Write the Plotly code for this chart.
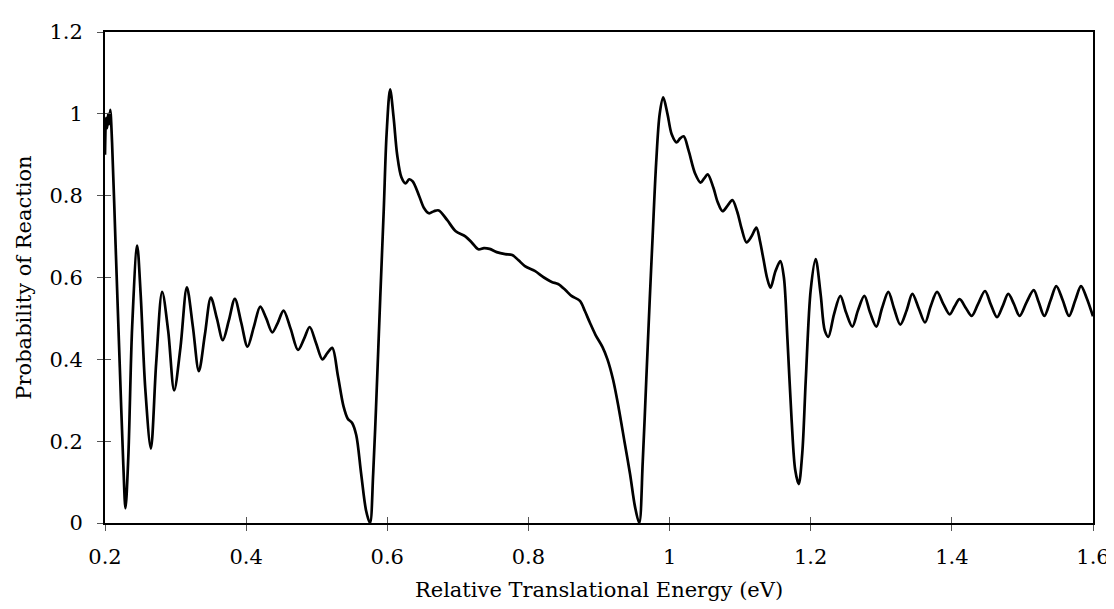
import plotly.graph_objects as go

# Energy (eV) and probability of reaction
energy = [
    0.200, 0.2015, 0.203, 0.2045, 0.206, 0.2075, 0.210, 0.215, 0.221, 0.226, 0.229,
    0.233, 0.2385, 0.2456, 0.2505, 0.257, 0.265, 0.2725, 0.281, 0.2895, 0.298,
    0.307, 0.316, 0.3245, 0.333, 0.3415, 0.350, 0.3585, 0.367, 0.3755, 0.384,
    0.393, 0.402, 0.411, 0.420, 0.4285, 0.437, 0.445, 0.453, 0.463, 0.4735,
    0.482, 0.490, 0.499, 0.508, 0.515, 0.522, 0.530, 0.538, 0.544, 0.550,
    0.556, 0.563, 0.570, 0.5755, 0.580, 0.584, 0.590, 0.595, 0.599, 0.604,
    0.609, 0.614, 0.620, 0.626, 0.631, 0.636, 0.645, 0.652, 0.659, 0.666,
    0.673, 0.685, 0.697, 0.711, 0.720, 0.729, 0.737, 0.745, 0.755, 0.767,
    0.777, 0.786, 0.795, 0.809, 0.822, 0.833, 0.842, 0.852, 0.861, 0.873,
    0.880, 0.887, 0.895, 0.905, 0.912, 0.920, 0.928, 0.936, 0.944, 0.951,
    0.957, 0.962, 0.967, 0.972, 0.976, 0.981, 0.986, 0.991, 0.997, 1.003,
    1.010, 1.015, 1.020, 1.027, 1.036, 1.044, 1.049, 1.054, 1.062, 1.068,
    1.075, 1.082, 1.089, 1.096, 1.102, 1.109, 1.116, 1.123, 1.128, 1.133,
    1.138, 1.143, 1.150, 1.157, 1.162, 1.167, 1.173, 1.178, 1.183, 1.188,
    1.193, 1.200, 1.207, 1.214, 1.220, 1.225, 1.233, 1.242, 1.250, 1.259,
    1.267, 1.276, 1.284, 1.293, 1.301, 1.310, 1.318, 1.327, 1.336, 1.344,
    1.353, 1.362, 1.370, 1.379, 1.388, 1.397, 1.404, 1.411, 1.420, 1.428,
    1.437, 1.447, 1.455, 1.464, 1.472, 1.480, 1.488, 1.496, 1.506, 1.516,
    1.523, 1.531, 1.540, 1.548, 1.557, 1.566, 1.575, 1.583, 1.591, 1.600,
]
probability = [
    0.900, 0.990, 0.965, 1.000, 0.975, 1.010, 0.930, 0.680, 0.380, 0.140, 0.036,
    0.160, 0.480, 0.678, 0.560, 0.330, 0.182, 0.390, 0.565, 0.470, 0.324,
    0.430, 0.576, 0.480, 0.371, 0.460, 0.551, 0.500, 0.447, 0.495, 0.548,
    0.490, 0.431, 0.480, 0.529, 0.500, 0.466, 0.490, 0.519, 0.475, 0.423,
    0.450, 0.479, 0.440, 0.400, 0.415, 0.428, 0.360, 0.285, 0.255, 0.245,
    0.215, 0.120, 0.030, 0.000, 0.120, 0.280, 0.550, 0.766, 0.950, 1.060,
    0.990, 0.900, 0.845, 0.830, 0.840, 0.835, 0.800, 0.770, 0.757, 0.762,
    0.764, 0.740, 0.713, 0.700, 0.685, 0.669, 0.672, 0.670, 0.662, 0.657,
    0.655, 0.642, 0.628, 0.616, 0.600, 0.589, 0.584, 0.570, 0.555, 0.543,
    0.518, 0.490, 0.460, 0.430, 0.400, 0.350, 0.280, 0.200, 0.120, 0.040,
    0.000, 0.150, 0.350, 0.550, 0.700, 0.880, 1.000, 1.040, 1.000, 0.950,
    0.930, 0.940, 0.945, 0.910, 0.855, 0.832, 0.842, 0.852, 0.820, 0.785,
    0.762, 0.775, 0.789, 0.760, 0.720, 0.686, 0.700, 0.722, 0.690, 0.645,
    0.600, 0.575, 0.615, 0.640, 0.600, 0.450, 0.250, 0.130, 0.095, 0.170,
    0.350, 0.570, 0.645, 0.560, 0.470, 0.455, 0.510, 0.555, 0.515, 0.480,
    0.520, 0.555, 0.515, 0.480, 0.525, 0.565, 0.525, 0.485, 0.520, 0.560,
    0.525, 0.490, 0.530, 0.565, 0.535, 0.510, 0.530, 0.547, 0.525, 0.506,
    0.535, 0.567, 0.535, 0.503, 0.530, 0.560, 0.535, 0.506, 0.540, 0.569,
    0.540, 0.506, 0.545, 0.579, 0.545, 0.506, 0.545, 0.579, 0.550, 0.505,
]

x_ticks = [0.2, 0.4, 0.6, 0.8, 1.0, 1.2, 1.4, 1.6]
x_tick_text = ["0.2", "0.4", "0.6", "0.8", "1", "1.2", "1.4", "1.6"]
y_ticks = [0, 0.2, 0.4, 0.6, 0.8, 1.0, 1.2]
y_tick_text = ["0", "0.2", "0.4", "0.6", "0.8", "1", "1.2"]

FONT = "DejaVu Serif"

fig = go.Figure()
fig.add_trace(go.Scatter(
    x=energy, y=probability, mode="lines",
    line=dict(color="black", width=2.7, shape="spline", smoothing=0.9),
    showlegend=False, hoverinfo="x+y",
))

axis_common = dict(
    showgrid=False, zeroline=False, showline=True, linecolor="black",
    linewidth=2, mirror=True, ticks="outside", ticklen=6, tickwidth=1,
    tickcolor="#555", tickfont=dict(family=FONT, size=21, color="black"),
)
fig.update_layout(
    width=1114, height=609,
    margin=dict(l=97, r=22, t=22, b=94),
    paper_bgcolor="white", plot_bgcolor="white",
    font=dict(family=FONT, color="black"),
    xaxis=dict(
        range=[0.2, 1.6], tickvals=x_ticks, ticktext=x_tick_text,
        ticklabelstandoff=8,
        title=dict(text="Relative Translational Energy (eV)",
                   font=dict(family=FONT, size=21), standoff=14),
        **axis_common,
    ),
    yaxis=dict(
        range=[0, 1.2], tickvals=y_ticks, ticktext=y_tick_text,
        ticklabelstandoff=10,
        title=dict(text="Probability of Reaction",
                   font=dict(family=FONT, size=21), standoff=12),
        **axis_common,
    ),
    xaxis2=dict(range=[0.2, 1.6], overlaying="x", tickvals=x_ticks,
                showticklabels=False, ticks="inside", ticklen=6, tickwidth=1,
                tickcolor="#555", showgrid=False, zeroline=False,
                showline=False, anchor="y"),
    yaxis2=dict(range=[0, 1.2], overlaying="y", tickvals=y_ticks,
                showticklabels=False, ticks="inside", ticklen=6, tickwidth=1,
                tickcolor="#555", showgrid=False, zeroline=False,
                showline=False, anchor="x"),
)
fig.add_trace(go.Scatter(x=[None], y=[None], xaxis="x2", yaxis="y2",
                         showlegend=False, hoverinfo="skip"))

fig.write_html("out.html")
